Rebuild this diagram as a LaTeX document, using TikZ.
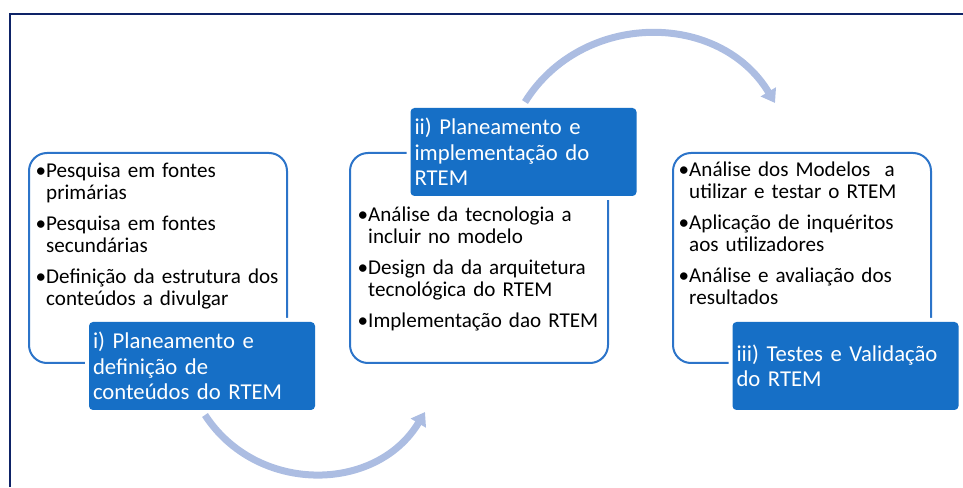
\documentclass[tikz,border=0pt]{standalone}
\usepackage{fontspec}
\setmainfont{Carlito}
\usetikzlibrary{arrows.meta}
\definecolor{navy}{RGB}{14,35,103}
\definecolor{boxblue}{RGB}{44,116,201}
\definecolor{labelblue}{RGB}{22,111,198}
\definecolor{arrowblue}{RGB}{172,189,226}
\newcommand{\itm}{\leavevmode\llap{•}}
\newcommand{\firstline}{\rule{0pt}{19pt}}

\begin{document}
\begin{tikzpicture}[x=1pt, y=1pt,
        box/.style = {draw=boxblue, line width=2pt, rounded corners=18pt, minimum width=258pt, minimum height=210pt},
        stage/.style = {fill=labelblue, text=white, rounded corners=4pt, preaction={draw=white, line width=8pt}, text width=218pt, inner xsep=4pt, minimum height=88pt, align=left, font=\fontsize{22.7}{25.5}\selectfont},
        items/.style = {anchor=north west, inner sep=0pt, text width=250pt, align=left, font=\fontsize{21.1}{22}\selectfont},
        flow/.style = {draw=arrowblue, line width=7pt, -{Triangle[width=17pt, length=13pt]}, looseness=1.1}]
                \useasboundingbox (0, 0) rectangle (963, 487);
                \draw [navy, line width=2pt] (10, 0) -- (10, 473) -- (963, 473);

                \node[box] at (158, 229) (B1) {};
                \node[box] at (479, 229) (B2) {};
                \node[box] at (802, 229) (B3) {};

                \node[items] at (46, 329) (T1) {\firstline\itm Pesquisa em fontes\\primárias\\[9pt]
                        \itm Pesquisa em fontes\\secundárias\\[9pt]
                        \itm Definição da estrutura dos\\conteúdos a divulgar};
                \node[items] at (368, 285) (T2) {\firstline\itm Análise da tecnologia a\\incluir no modelo\\[9pt]
                        \itm Design da da arquitetura\\tecnológica do RTEM\\[9pt]
                        \itm Implementação dao RTEM};
                \node[items] at (689, 330) (T3) {\firstline\itm Análise dos Modelos~ a\\utilizar e testar o RTEM\\[9pt]
                        \itm Aplicação de inquéritos\\aos utilizadores\\[9pt]
                        \itm Análise e avaliação dos\\resultados};

                \node[stage] at (202, 121) (L1) {i) Planeamento e\\definição de\\conteúdos do RTEM};
                \node[stage] at (523.5, 335) (L2) {ii) Planeamento e\\implementação do\\RTEM};
                \node[stage] at (845.5, 121) (L3) {iii) Testes e Validação\\do RTEM};

                \coordinate (A1) at (205, 72);
                \coordinate (A2) at (425, 75);
                \coordinate (A3) at (525, 385);
                \coordinate (A4) at (775, 384);

                \draw [flow] (A1) to[out=-57, in=-121] (A2);
                \draw [flow] (A3) to[out=58, in=121] (A4);
\end{tikzpicture}
\end{document}
